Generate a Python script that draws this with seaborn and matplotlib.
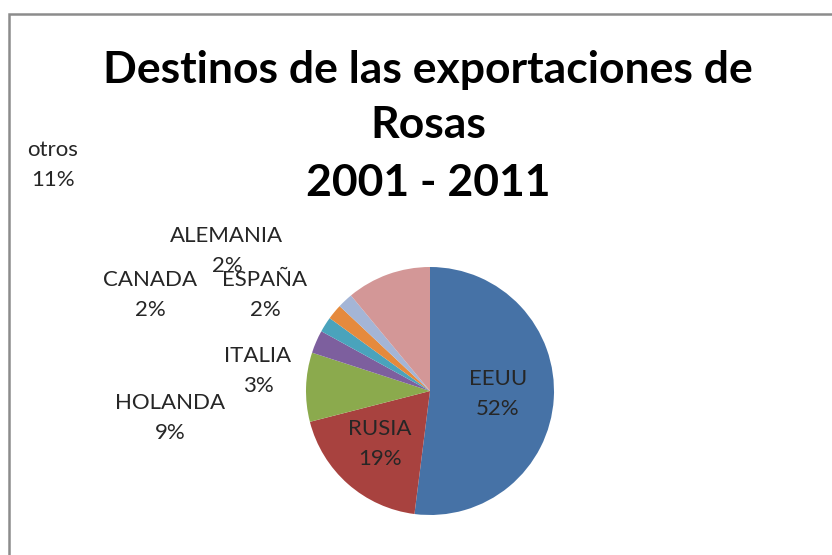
import matplotlib.pyplot as plt
from matplotlib.patches import Rectangle
import seaborn as sns

# data
destinos = ["EEUU", "RUSIA", "HOLANDA", "ITALIA", "CANADA", "ESPAÑA", "ALEMANIA", "otros"]
porcentajes = [52, 19, 9, 3, 2, 2, 2, 11]
colores = ["#4672A6", "#A8423F", "#8BAA4D", "#7D5F9E", "#4AA3BC", "#E58A3D", "#A4B5D6", "#D39797"]
titulo = ["Destinos de las exportaciones de", "Rosas", "2001 - 2011"]

# label positions in pixels (x, y from top), placed by hand like in the original
label_pos = [(498, 394), (380, 444), (170, 418), (258, 371),
             (150, 295), (265, 295), (227, 251), (53, 165)]

W, H = 832, 555


def main():
    sns.set_theme(style="white")
    plt.rcParams["font.family"] = ["Lato", "DejaVu Sans"]

    fig = plt.figure(figsize=(W / 100, H / 100), dpi=100)
    ax = fig.add_axes([0, 0, 1, 1])
    ax.set_xlim(0, W)
    ax.set_ylim(0, H)
    ax.set_aspect("equal")
    ax.axis("off")

    ax.pie(porcentajes, colors=colores, startangle=90, counterclock=False,
           center=(430, H - 391), radius=124,
           wedgeprops=dict(linewidth=0))
    ax.set_xlim(0, W)
    ax.set_ylim(0, H)

    for name, pct, (x, y) in zip(destinos, porcentajes, label_pos):
        ax.text(x, H - y, f"{name}\n{pct}%", ha="center", va="center",
                fontsize=16, color="#262626", linespacing=1.65)

    for line, y in zip(titulo, [70, 125, 183]):
        fig.text(428 / W, 1 - y / H, line, ha="center", va="center",
                 fontsize=32, fontweight="bold", color="black")

    # outer chart frame (cut off at right and bottom)
    fig.patches.append(Rectangle((8.5 / W, -0.1), 1.2, 1 - 14.5 / H + 0.1,
                                 transform=fig.transFigure, fill=False,
                                 edgecolor="#8C8C8C", linewidth=1.8))

    fig.savefig("out.png", dpi=100)


if __name__ == "__main__":
    main()
